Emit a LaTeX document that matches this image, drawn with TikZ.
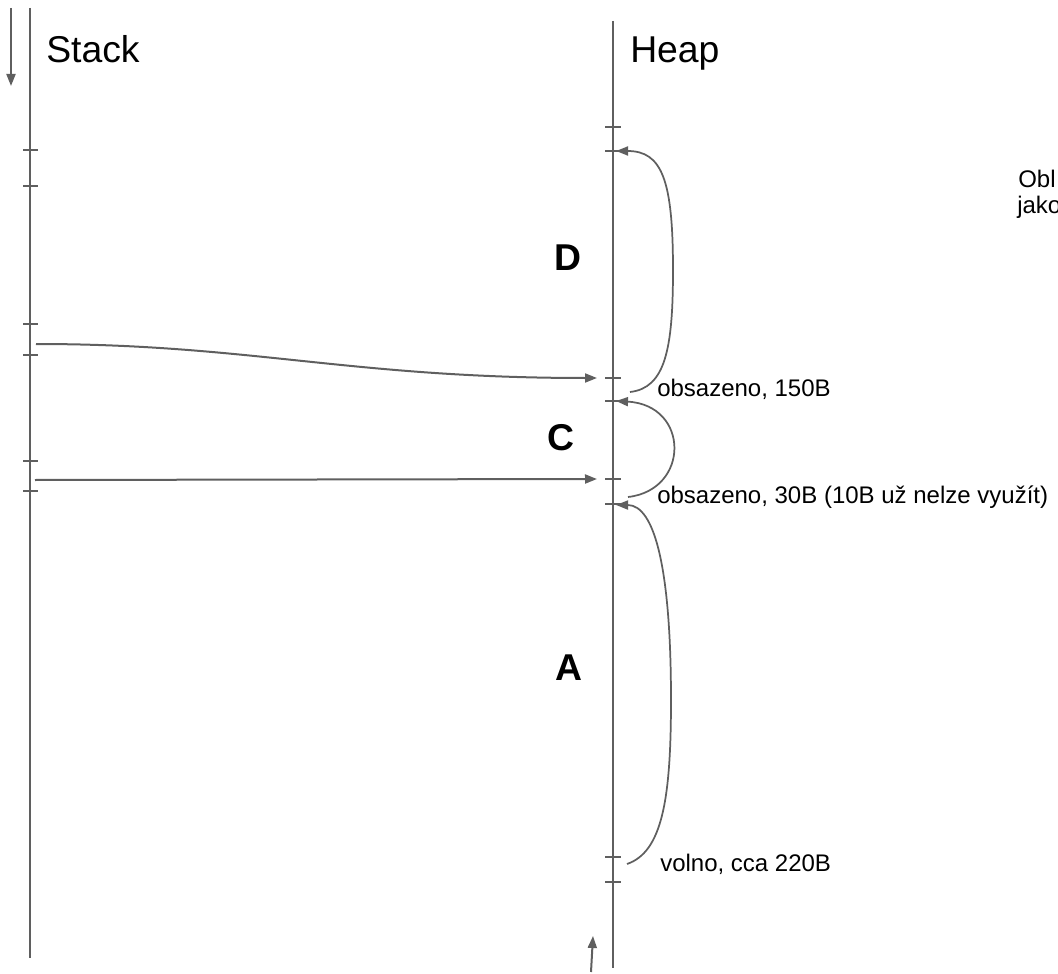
\documentclass[tikz,border=0pt]{standalone}
\usepackage{fontspec}
\setmainfont{Liberation Sans}
\usetikzlibrary{arrows.meta}
\definecolor{linegray}{RGB}{95,95,95}

\begin{document}
\begin{tikzpicture}[x=0.75pt,y=-0.75pt,
  axis/.style={draw=linegray, line width=1.5pt},
  notch/.style={draw=linegray, line width=1.5pt},
  ptr/.style={draw=linegray, line width=1.5pt, -{Triangle[length=9pt,width=6.75pt]}},
  span/.style={draw=linegray, line width=1.3pt, -{Triangle[length=9pt,width=6.75pt]}},
  title/.style={inner sep=0pt, anchor=base west, font=\fontsize{28}{34}\selectfont},
  block/.style={inner sep=0pt, font=\fontsize{28}{34}\selectfont\bfseries},
  note/.style={inner sep=0pt, anchor=base west, font=\fontsize{18}{22}\selectfont}]
\useasboundingbox (0,0) rectangle (1058,974);
\clip (0,0) rectangle (1058,974);

% the two columns
\coordinate (stacktop) at (30,8);
\coordinate (stackbot) at (30,958);
\coordinate (heaptop) at (613,21);
\coordinate (heapbot) at (613,968);
\draw[axis] (stacktop) -- (stackbot);
\draw[axis] (heaptop) -- (heapbot);

\node[title] (stack) at (46,63) {Stack};
\node[title] (heap) at (630,63) {Heap};

% growth directions
\coordinate (downfrom) at (11,8);
\coordinate (downto) at (11,86);
\draw[ptr] (downfrom) -- (downto);
\coordinate (upfrom) at (591,972);
\coordinate (upto) at (593,936);
\draw[ptr] (upfrom) -- (upto);

% stack ticks
\coordinate (s1) at (30,150);
\coordinate (s2) at (30,186);
\coordinate (s3) at (30,324);
\coordinate (s4) at (30,355);
\coordinate (s5) at (30,461);
\coordinate (s6) at (30,491);
\draw[notch] (s1) +(-7,0) -- +(8,0);
\draw[notch] (s2) +(-7,0) -- +(8,0);
\draw[notch] (s3) +(-7,0) -- +(8,0);
\draw[notch] (s4) +(-7,0) -- +(8,0);
\draw[notch] (s5) +(-7,0) -- +(8,0);
\draw[notch] (s6) +(-7,0) -- +(8,0);

% heap ticks
\coordinate (h1) at (613,127);
\coordinate (h2) at (613,151);
\coordinate (h3) at (613,378);
\coordinate (h4) at (613,401);
\coordinate (h5) at (613,479);
\coordinate (h6) at (613,504);
\coordinate (h7) at (613,857);
\coordinate (h8) at (613,882);
\draw[notch] (h1) +(-8,0) -- +(8,0);
\draw[notch] (h2) +(-8,0) -- +(8,0);
\draw[notch] (h3) +(-8,0) -- +(8,0);
\draw[notch] (h4) +(-8,0) -- +(8,0);
\draw[notch] (h5) +(-8,0) -- +(8,0);
\draw[notch] (h6) +(-8,0) -- +(8,0);
\draw[notch] (h7) +(-8,0) -- +(8,0);
\draw[notch] (h8) +(-8,0) -- +(8,0);

% pointers from the stack
\coordinate (ptrD) at (36,344);
\coordinate (ptrDend) at (597,378);
\draw[ptr] (ptrD) .. controls (250,344) and (350,378) .. (ptrDend);
\coordinate (ptrC) at (35,480);
\coordinate (ptrCend) at (597,479);
\draw[ptr] (ptrC) -- (ptrCend);

% block sizes
\coordinate (spanDlow) at (630,392);
\coordinate (spanDtop) at (616,151);
\draw[span] (spanDlow) .. controls (665,388) and (673,350) .. (673,270)
  .. controls (673,180) and (662,151) .. (spanDtop);
\coordinate (spanClow) at (628,497);
\coordinate (spanCtop) at (616,401);
\draw[span] (spanClow) .. controls (690,490) and (690,405) .. (spanCtop);
\coordinate (spanAlow) at (627,864);
\coordinate (spanAtop) at (616,505);
\draw[span] (spanAlow) .. controls (662,852) and (671,800) .. (671,700)
  .. controls (671,570) and (655,505) .. (spanAtop);

\node[block] (blockD) at (568,258) {D};
\node[block] (blockC) at (561,438) {C};
\node[block] (blockA) at (569,668) {A};

\node[note] (used150) at (657,396) {obsazeno, 150B};
\node[note] (used30) at (657,503) {obsazeno, 30B (10B už nelze využít)};
\node[note] (free220) at (660,871) {volno, cca 220B};
\node[note] (obl) at (1018,187) {Obl};
\node[note] (jako) at (1017,214) {jako};
\end{tikzpicture}
\end{document}
